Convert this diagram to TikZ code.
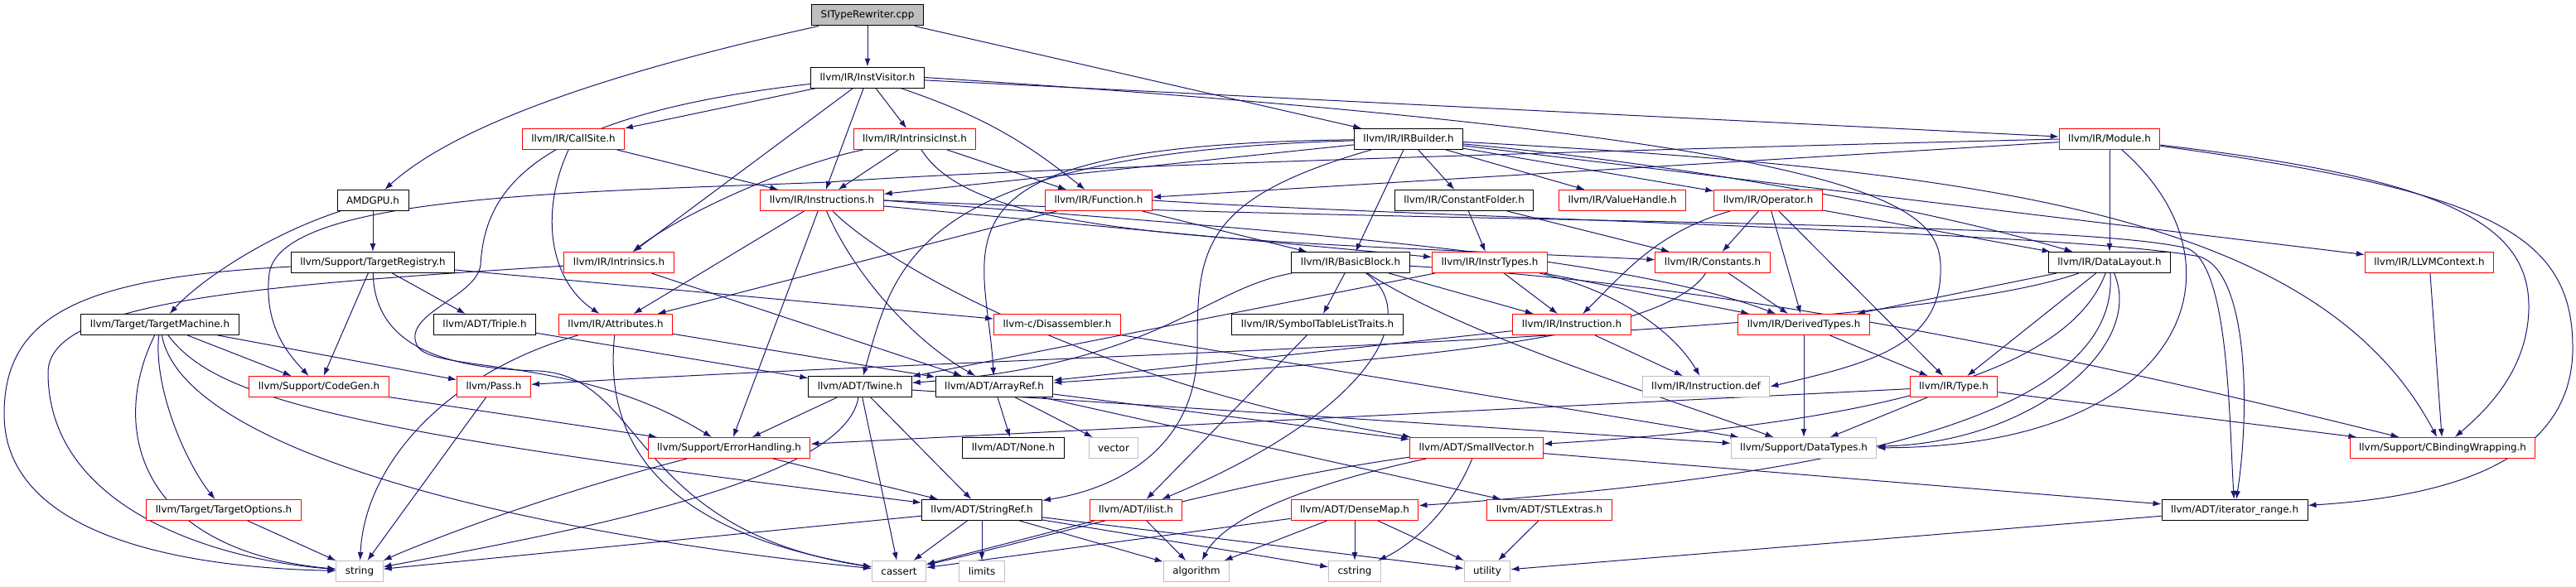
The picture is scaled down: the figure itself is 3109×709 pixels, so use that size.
\documentclass[tikz,border=0pt]{standalone}
\usepackage{fontspec}
\setmainfont{DejaVu Sans}
\usetikzlibrary{arrows.meta,backgrounds}
\definecolor{edgecol}{HTML}{191970}
\definecolor{greyline}{HTML}{BFBFBF}
\definecolor{rootfill}{HTML}{BFBFBF}
\tikzset{
  nb/.style={draw=black, fill=white, line width=1pt, inner xsep=11pt, inner ysep=0pt, minimum height=25pt, font=\fontsize{11.9}{14}\selectfont},
  nr/.style={nb, draw=red},
  ng/.style={nb, draw=greyline},
  nroot/.style={nb, fill=rootfill},
  dep/.style={draw=edgecol, line width=1pt, -{Latex[length=10pt,width=7pt]}}
}
\begin{document}
\begin{tikzpicture}[x=1pt,y=-1pt]
\useasboundingbox (0,0) rectangle (3109,709);
\node[nroot] (root) at (1047,18.5) {SITypeRewriter.cpp};
\node[nb] (iv) at (1047,93.5) {llvm/IR/InstVisitor.h};
\node[nr] (cs) at (692,168) {llvm/IR/CallSite.h};
\node[nr] (ii) at (1104,168) {llvm/IR/IntrinsicInst.h};
\node[nb] (irb) at (1700,168) {llvm/IR/IRBuilder.h};
\node[nr] (mod) at (2546,168) {llvm/IR/Module.h};
\node[nb] (amd) at (450,242) {AMDGPU.h};
\node[nr] (ins) at (992,242) {llvm/IR/Instructions.h};
\node[nr] (fun) at (1326,242) {llvm/IR/Function.h};
\node[nb] (cf) at (1767,242) {llvm/IR/ConstantFolder.h};
\node[nr] (vh) at (1958,242) {llvm/IR/ValueHandle.h};
\node[nr] (op) at (2134,242) {llvm/IR/Operator.h};
\node[nb] (tr) at (450,317) {llvm/Support/TargetRegistry.h};
\node[nr] (intr) at (747,317) {llvm/IR/Intrinsics.h};
\node[nb] (bb) at (1630,317) {llvm/IR/BasicBlock.h};
\node[nr] (it) at (1798,317) {llvm/IR/InstrTypes.h};
\node[nr] (con) at (2067,317) {llvm/IR/Constants.h};
\node[nb] (dl) at (2546,317) {llvm/IR/DataLayout.h};
\node[nr] (ctx) at (2932,317) {llvm/IR/LLVMContext.h};
\node[nb] (tm) at (193,392) {llvm/Target/TargetMachine.h};
\node[nb] (tri) at (585,392) {llvm/ADT/Triple.h};
\node[nr] (attr) at (743,392) {llvm/IR/Attributes.h};
\node[nr] (dis) at (1276,392) {llvm-c/Disassembler.h};
\node[nb] (stlt) at (1590,392) {llvm/IR/SymbolTableListTraits.h};
\node[nr] (inst) at (1897,392) {llvm/IR/Instruction.h};
\node[nr] (dt) at (2177,392) {llvm/IR/DerivedTypes.h};
\node[nr] (cg) at (385,467) {llvm/Support/CodeGen.h};
\node[nr] (pass) at (596,467) {llvm/Pass.h};
\node[nb] (tw) at (1038,467) {llvm/ADT/Twine.h};
\node[nb] (ar) at (1200,467) {llvm/ADT/ArrayRef.h};
\node[ng] (idef) at (2059,467) {llvm/IR/Instruction.def};
\node[nr] (ty) at (2358,467) {llvm/IR/Type.h};
\node[nr] (eh) at (880,541) {llvm/Support/ErrorHandling.h};
\node[nb] (none) at (1223,541) {llvm/ADT/None.h};
\node[ng] (vec) at (1344,541) {vector};
\node[nr] (sv) at (1782,541) {llvm/ADT/SmallVector.h};
\node[ng] (dtypes) at (2177,541) {llvm/Support/DataTypes.h};
\node[nr] (cbw) at (2948,541) {llvm/Support/CBindingWrapping.h};
\node[nr] (to) at (270,616) {llvm/Target/TargetOptions.h};
\node[nb] (sr) at (1185,616) {llvm/ADT/StringRef.h};
\node[nr] (il) at (1371,616) {llvm/ADT/ilist.h};
\node[nr] (dm) at (1635,616) {llvm/ADT/DenseMap.h};
\node[nr] (stl) at (1870,616) {llvm/ADT/STLExtras.h};
\node[nb] (itr) at (2697,616) {llvm/ADT/iterator\_range.h};
\node[ng] (str) at (434,690) {string};
\node[ng] (cas) at (1085,690) {cassert};
\node[ng] (lim) at (1185,690) {limits};
\node[ng] (alg) at (1444,690) {algorithm};
\node[ng] (cstr) at (1635,690) {cstring};
\node[ng] (util) at (1795,690) {utility};

\begin{scope}[on background layer]
% root
\draw[dep] (root) -- (iv);
\draw[dep] (root) -- (irb);
\draw[dep] (root) .. controls (700,95) and (540,160) .. (amd);
% AMDGPU
\draw[dep] (amd) -- (tr);
\draw[dep] (amd) .. controls (320,285) and (240,340) .. (tm);
% InstVisitor
\draw[dep] (iv) -- (cs);
\draw[dep] (iv) -- (ii);
\draw[dep] (iv) -- (ins);
\draw[dep] (iv) to[bend left=10] (fun);
\draw[dep] (iv) -- (intr);
\draw[dep] (iv) -- (mod);
\draw[dep] (iv.east) .. controls (2300,170) and (2345,250) .. (2342,330) .. controls (2340,420) and (2250,440) .. (idef.east);
\draw[dep] (iv) .. controls (640,140) and (585,230) .. (580,320) .. controls (575,360) and (480,380) .. (505,420) .. controls (530,450) and (700,430) .. (eh);
% IRBuilder
\draw[dep] (irb) -- (ins);
\draw[dep] (irb) .. controls (1100,175) and (1190,290) .. (ar);
\draw[dep] (irb) .. controls (1100,185) and (1080,320) .. (tw);
\draw[dep] (irb) .. controls (1450,240) and (1445,300) .. (1445,420) .. controls (1445,540) and (1350,590) .. (sr);
\draw[dep] (irb) -- (bb);
\draw[dep] (irb) -- (cf);
\draw[dep] (irb) -- (vh);
\draw[dep] (irb) -- (op);
\draw[dep] (irb) .. controls (2000,195) and (2300,245) .. (dl);
\draw[dep] (irb) -- (ctx);
\draw[dep] (irb) .. controls (2400,205) and (2800,260) .. (cbw);
% CallSite
\draw[dep] (cs) .. controls (650,260) and (665,340) .. (attr);
\draw[dep] (cs) -- (ins);
% IntrinsicInst
\draw[dep] (ii) -- (ins);
\draw[dep] (ii) -- (fun);
\draw[dep] (ii) .. controls (950,200) and (820,260) .. (intr);
\draw[dep] (ii) .. controls (1180,290) and (1500,290) .. (con);
% Module
\draw[dep] (mod) -- (fun);
\draw[dep] (mod) -- (dl);
\draw[dep] (mod.west) .. controls (1800,185) and (1200,205) .. (1000,220) .. controls (700,232) and (340,235) .. (325,330) .. controls (318,390) and (345,425) .. (cg);
\draw[dep] (mod) .. controls (3000,230) and (3105,280) .. (3105,420) .. controls (3105,560) and (2950,600) .. (itr);
\draw[dep] (mod) .. controls (2950,215) and (3052,270) .. (3052,370) .. controls (3052,450) and (2995,500) .. (cbw);
\draw[dep] (mod) .. controls (2720,320) and (2640,540) .. (dtypes);
% Instructions
\draw[dep] (ins) -- (attr);
\draw[dep] (ins) -- (eh);
\draw[dep] (ins) .. controls (1030,330) and (1100,410) .. (ar);
\draw[dep] (ins) .. controls (1080,330) and (1350,470) .. (sv);
\draw[dep] (ins) -- (it);
\draw[dep] (ins.east) .. controls (1500,275) and (1950,305) .. (dt);
\draw[dep] (ins.east) .. controls (1700,270) and (2500,265) .. (2640,300) .. controls (2690,320) and (2690,500) .. (itr);
% Function
\draw[dep] (fun) -- (bb);
\draw[dep] (fun) -- (attr);
\draw[dep] (fun.east) .. controls (1700,262) and (2500,280) .. (2655,310) .. controls (2715,330) and (2715,500) .. (itr);
% ConstantFolder
\draw[dep] (cf) -- (it);
\draw[dep] (cf) -- (con);
% Operator
\draw[dep] (op) -- (con);
\draw[dep] (op) .. controls (2000,280) and (1960,330) .. (inst);
\draw[dep] (op) -- (dt);
\draw[dep] (op) -- (ty);
\draw[dep] (op) -- (dl);
% TargetRegistry
\draw[dep] (tr) .. controls (100,335) and (5,380) .. (5,500) .. controls (5,640) and (200,685) .. (str);
\draw[dep] (tr) -- (cg);
\draw[dep] (tr) .. controls (452,420) and (540,445) .. (650,448) .. controls (780,455) and (760,640) .. (cas);
\draw[dep] (tr) -- (tri);
\draw[dep] (tr) -- (dis);
% Intrinsics
\draw[dep] (intr) .. controls (300,345) and (58,365) .. (58,450) .. controls (58,610) and (250,675) .. (str);
\draw[dep] (intr) -- (ar);
% BasicBlock
\draw[dep] (bb) .. controls (1450,350) and (1400,440) .. (tw);
\draw[dep] (bb) -- (stlt);
\draw[dep] (bb) -- (inst);
\draw[dep] (bb) .. controls (1720,380) and (1650,500) .. (il);
\draw[dep] (bb) .. controls (1760,400) and (1950,460) .. (dtypes);
\draw[dep] (bb) .. controls (2100,345) and (2500,430) .. (cbw);
% InstrTypes
\draw[dep] (it) -- (inst);
\draw[dep] (it) .. controls (1950,350) and (2020,400) .. (idef);
\draw[dep] (it) -- (dt);
\draw[dep] (it) -- (tw);
% Constants
\draw[dep] (con) .. controls (2000,420) and (1600,440) .. (ar);
\draw[dep] (con) -- (dt);
% DataLayout
\draw[dep] (dl) -- (dt);
\draw[dep] (dl) -- (ty);
\draw[dep] (dl) .. controls (2590,420) and (2450,535) .. (dtypes);
\draw[dep] (dl) .. controls (2560,520) and (2150,580) .. (dm);
\draw[dep] (dl) .. controls (2500,440) and (2300,510) .. (sv);
\draw[dep] (dl) .. controls (2280,410) and (1300,425) .. (pass);
% LLVMContext
\draw[dep] (ctx) -- (cbw);
% TargetMachine
\draw[dep] (tm) .. controls (130,520) and (170,665) .. (str);
\draw[dep] (tm) .. controls (185,470) and (225,560) .. (to);
\draw[dep] (tm) .. controls (220,540) and (600,640) .. (cas);
\draw[dep] (tm) .. controls (260,480) and (400,520) .. (sr);
\draw[dep] (tm) -- (cg);
\draw[dep] (tm) -- (pass);
% others
\draw[dep] (tri) -- (tw);
\draw[dep] (attr) -- (ar);
\draw[dep] (attr) .. controls (730,520) and (780,640) .. (cas);
\draw[dep] (attr) .. controls (540,450) and (440,560) .. (str);
\draw[dep] (dis) -- (dtypes);
\draw[dep] (stlt) -- (il);
\draw[dep] (inst) -- (ar);
\draw[dep] (inst) -- (idef);
\draw[dep] (dt) -- (ty);
\draw[dep] (dt) -- (dtypes);
\draw[dep] (cg) -- (eh);
\draw[dep] (pass) -- (str);
\draw[dep] (tw) -- (sr);
\draw[dep] (tw) -- (cas);
\draw[dep] (tw) -- (eh);
\draw[dep] (tw) .. controls (1020,580) and (700,640) .. (str);
\draw[dep] (tw) -- (dtypes);
\draw[dep] (ar) -- (none);
\draw[dep] (ar) -- (vec);
\draw[dep] (ar) -- (sv);
\draw[dep] (ar) -- (stl);
\draw[dep] (ty) -- (eh);
\draw[dep] (ty) -- (dtypes);
\draw[dep] (ty) -- (cbw);
\draw[dep] (eh) .. controls (650,600) and (500,660) .. (str);
\draw[dep] (eh) -- (sr);
\draw[dep] (sv) .. controls (1500,580) and (1300,640) .. (cas);
\draw[dep] (sv) .. controls (1600,580) and (1480,620) .. (alg);
\draw[dep] (sv) .. controls (1750,620) and (1700,660) .. (cstr);
\draw[dep] (sv) -- (itr);
\draw[dep] (to) -- (str);
\draw[dep] (sr) -- (cas);
\draw[dep] (sr) -- (lim);
\draw[dep] (sr) -- (alg);
\draw[dep] (sr) -- (cstr);
\draw[dep] (sr) -- (util);
\draw[dep] (sr) -- (str);
\draw[dep] (il) -- (alg);
\draw[dep] (il) -- (cas);
\draw[dep] (dm) -- (alg);
\draw[dep] (dm) -- (cstr);
\draw[dep] (dm) -- (util);
\draw[dep] (dm) -- (cas);
\draw[dep] (stl) -- (util);
\draw[dep] (itr) -- (util);
\end{scope}
\end{tikzpicture}
\end{document}
